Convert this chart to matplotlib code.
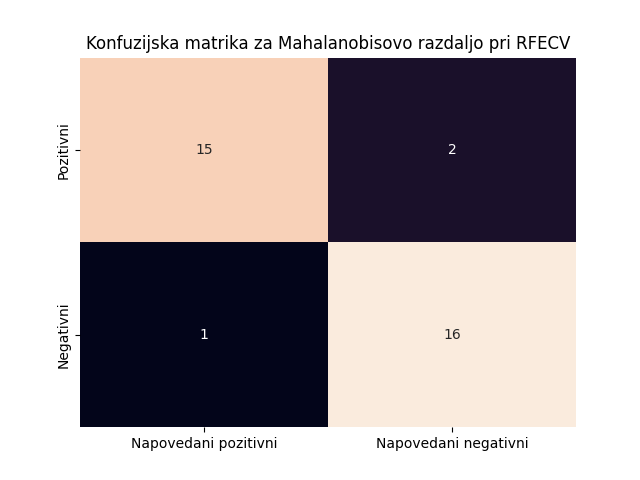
import numpy as np
import matplotlib
matplotlib.use("Agg")
import matplotlib.pyplot as plt
import seaborn as sns

row_labels = ["Pozitivni", "Negativni"]
col_labels = ["Napovedani pozitivni", "Napovedani negativni"]
counts = np.array([[15, 2],
                   [1, 16]])

fig = plt.figure(figsize=(6.4, 4.8), dpi=100)
ax = sns.heatmap(counts, annot=True, fmt="d", cbar=False,
                 xticklabels=col_labels, yticklabels=row_labels)
plt.yticks(rotation=90, va="center")
plt.title("Konfuzijska matrika za Mahalanobisovo razdaljo pri RFECV")
plt.savefig("out.png")
